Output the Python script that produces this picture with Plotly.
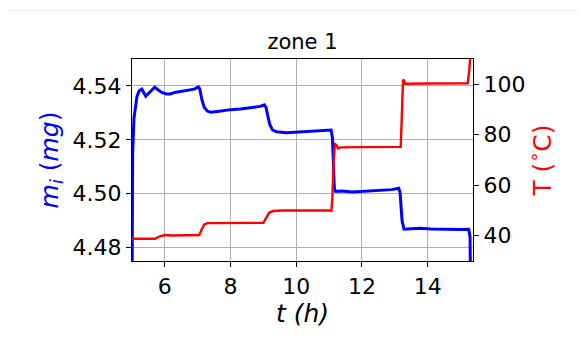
import plotly.graph_objects as go

# Sample mass (mg) measured over time (h)
t_mass = [5.0, 5.02, 5.06, 5.1, 5.15, 5.22, 5.3, 5.36, 5.42, 5.5, 5.6, 5.69, 5.8,
          5.92, 6.05, 6.17, 6.3, 6.5, 6.7, 6.9, 7.02, 7.06, 7.13, 7.2, 7.3, 7.4,
          7.6, 7.8, 8.0, 8.3, 8.6, 8.9, 9.03, 9.08, 9.14, 9.2, 9.28, 9.4, 9.7,
          10.0, 10.3, 10.6, 10.9, 11.06, 11.1, 11.13, 11.16, 11.2, 11.4, 11.7,
          12.0, 12.3, 12.6, 12.9, 13.12, 13.16, 13.22, 13.28, 13.5, 13.8, 14.1,
          14.4, 14.7, 15.0, 15.25, 15.29, 15.31]
mass = [4.46, 4.515, 4.528, 4.5325, 4.536, 4.5382, 4.5388, 4.5375, 4.5362, 4.5372,
        4.5385, 4.5395, 4.5385, 4.5375, 4.537, 4.537, 4.5376, 4.538, 4.5383, 4.5388,
        4.5396, 4.539, 4.5348, 4.532, 4.5306, 4.5302, 4.5305, 4.5309, 4.5312, 4.5314,
        4.5319, 4.5324, 4.533, 4.532, 4.5285, 4.5255, 4.5236, 4.523, 4.5226, 4.5228,
        4.523, 4.5233, 4.5235, 4.5236, 4.521, 4.507, 4.502, 4.5008, 4.501, 4.5006,
        4.5008, 4.5009, 4.5012, 4.5015, 4.502, 4.5005, 4.49, 4.4868, 4.487, 4.4872,
        4.4869, 4.4868, 4.4866, 4.4867, 4.4868, 4.484, 4.46]

# Temperature (deg C) over time (h)
t_temp = [5.0, 5.7, 5.85, 6.0, 6.2, 6.5, 6.8, 7.05, 7.12, 7.2, 7.3, 8.0, 9.0, 9.08,
          9.18, 9.3, 9.6, 10.5, 11.07, 11.1, 11.14, 11.18, 11.22, 11.27, 11.35, 12.0,
          13.0, 13.18, 13.22, 13.25, 13.28, 13.32, 14.0, 15.0, 15.22, 15.27, 15.32]
temp = [38.8, 38.8, 39.8, 40.3, 40.1, 40.2, 40.2, 40.3, 42.5, 44.5, 45.0, 45.0, 45.1,
        47.0, 49.2, 49.8, 50.0, 50.0, 50.0, 55.0, 70.0, 76.3, 76.0, 74.6, 75.0, 75.1,
        75.1, 75.2, 90.0, 101.8, 101.5, 100.2, 100.3, 100.3, 100.4, 106.0, 115.0]

x_ticks = [6, 8, 10, 12, 14]
mass_ticks = [4.48, 4.50, 4.52, 4.54]
mass_tick_text = ["4.48", "4.50", "4.52", "4.54"]
temp_ticks = [40, 60, 80, 100]

FONT = "DejaVu Sans"

fig = go.Figure()
fig.add_trace(go.Scatter(x=t_mass, y=mass, mode="lines",
                         line=dict(color="#0000ff", width=3), yaxis="y"))
fig.add_trace(go.Scatter(x=t_temp, y=temp, mode="lines",
                         line=dict(color="#ff0000", width=2.4), yaxis="y2"))

axis_common = dict(showline=True, linecolor="black", linewidth=1.3,
                   ticks="outside", ticklen=5, tickcolor="black", tickwidth=1.3,
                   zeroline=False, tickfont=dict(family=FONT, size=22, color="black"))

fig.update_layout(
    width=579, height=347,
    margin=dict(l=132, r=106, t=59, b=86),
    paper_bgcolor="white", plot_bgcolor="white",
    showlegend=False,
    title=dict(text="zone 1", x=0.5, xanchor="center", xref="paper",
               y=1 - 42 / 347, yanchor="middle",
               font=dict(family=FONT, size=21, color="black")),
    xaxis=dict(range=[5.0, 15.38], tickvals=x_ticks, showgrid=True,
               gridcolor="#b0b0b0", gridwidth=1.3, mirror=True,
               title=dict(text="<i>t (h)</i>", standoff=4,
                          font=dict(family=FONT, size=25, color="black")),
               **axis_common),
    yaxis=dict(range=[4.475, 4.55], tickvals=mass_ticks, ticktext=mass_tick_text,
               showgrid=True, gridcolor="#b0b0b0", gridwidth=1.3, mirror=False,
               title=dict(text="<i>m<sub>i</sub></i> (<i>mg</i>)", standoff=6,
                          font=dict(family=FONT, size=25, color="#0000ff")),
               **axis_common),
    yaxis2=dict(range=[30, 110], tickvals=temp_ticks, overlaying="y", side="right",
                showgrid=False,
                title=dict(text="T (<sup>∘</sup>C)", standoff=8,
                           font=dict(family=FONT, size=25, color="#ff0000")),
                **axis_common),
    shapes=[dict(type="line", xref="paper", yref="paper",
                 x0=-0.362, x1=1.31, y0=1.2398, y1=1.2398,
                 line=dict(color="#f0f0f0", width=1))],
)

fig.write_html("out.html")
